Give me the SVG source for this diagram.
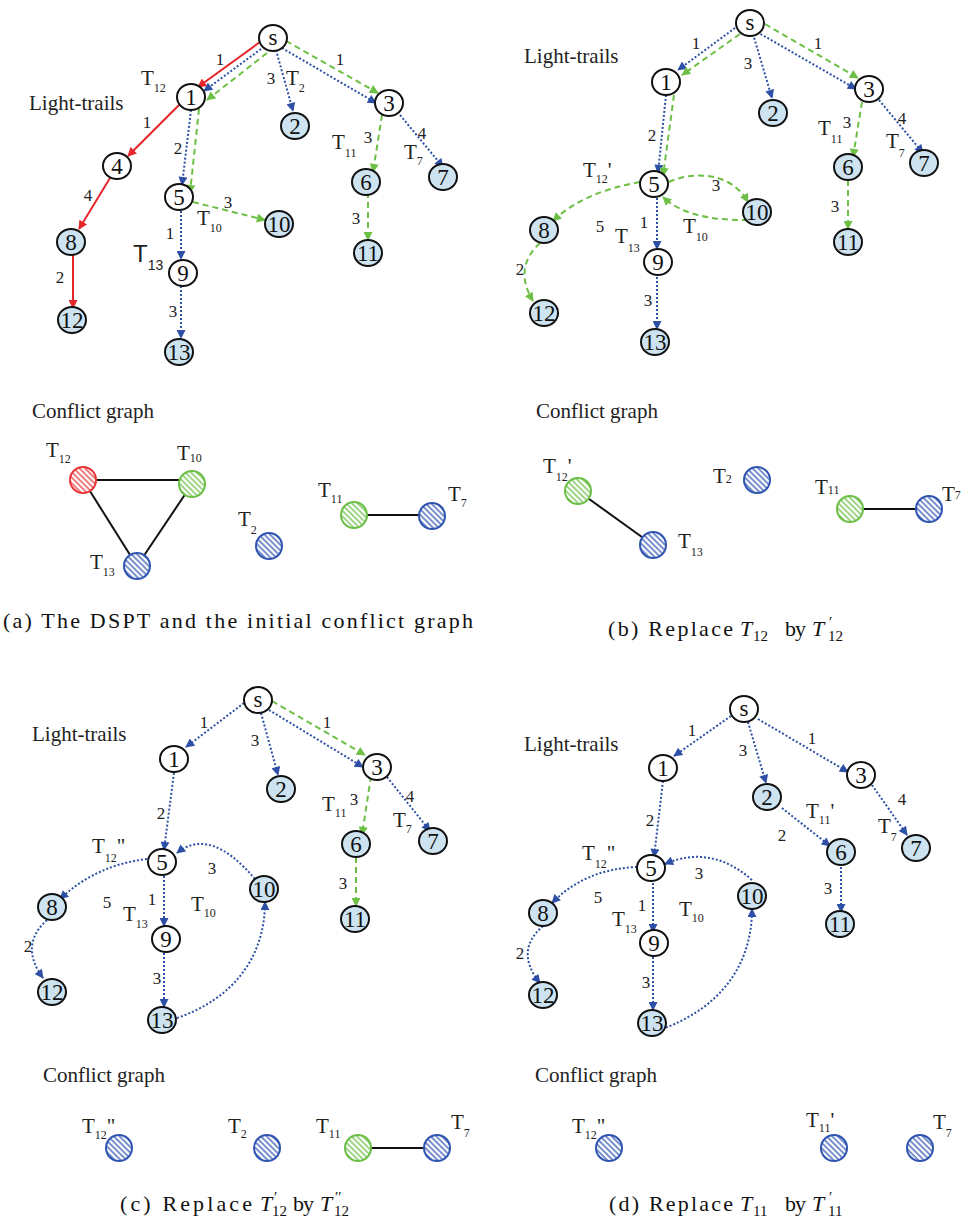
<svg xmlns="http://www.w3.org/2000/svg" width="961" height="1221" viewBox="0 0 961 1221" font-family="'Liberation Serif','Times New Roman',Times,'DejaVu Serif',serif">
<style>
.nd ellipse{stroke:#111;stroke-width:2}
.w ellipse{fill:#fff}
.b ellipse{fill:#cde3f0}
.nd text{font-family:'Liberation Serif','Times New Roman',Times,'DejaVu Serif',serif;font-size:23px;text-anchor:middle;fill:#111}
.el{font-family:'Liberation Serif','Times New Roman',Times,'DejaVu Serif',serif;font-size:17px;text-anchor:middle;fill:#222}
.tl{font-family:'Liberation Serif','Times New Roman',Times,'DejaVu Serif',serif;font-size:21px;fill:#222}
.sb{font-size:12px}
.ar{font-family:'Liberation Sans',Arial,sans-serif;font-size:24px;fill:#222}
.ars{font-size:14px}
.hd{font-family:'Liberation Serif','Times New Roman',Times,'DejaVu Serif',serif;font-size:21px;fill:#222}
.cap{font-family:'Liberation Serif','Times New Roman',Times,'DejaVu Serif',serif;font-size:22px;fill:#111}
.it{font-style:italic}
.cs{font-size:15px}
.r{stroke:#e5262b;stroke-width:2;fill:none;marker-end:url(#mr)}
.bl{stroke:#2d4fa6;stroke-width:2;stroke-dasharray:2 2;fill:none;marker-end:url(#mb)}
.g{stroke:#6dbf45;stroke-width:2;stroke-dasharray:6 4;fill:none;marker-end:url(#mg)}
.cl{stroke:#111;stroke-width:2}
.hb{fill:url(#hb);stroke:#2f55b0;stroke-width:2}
.hg{fill:url(#hg);stroke:#6bbf47;stroke-width:2}
.hr{fill:url(#hr);stroke:#e8363a;stroke-width:2}
</style>
<defs>
<marker id="mr" viewBox="0 0 10 10" refX="9" refY="5" markerWidth="10" markerHeight="9" markerUnits="userSpaceOnUse" orient="auto"><path d="M0,0 L10,5 L0,10 z" fill="#e5262b"/></marker>
<marker id="mb" viewBox="0 0 10 10" refX="9" refY="5" markerWidth="10" markerHeight="9" markerUnits="userSpaceOnUse" orient="auto"><path d="M0,0 L10,5 L0,10 z" fill="#2d4fa6"/></marker>
<marker id="mg" viewBox="0 0 10 10" refX="9" refY="5" markerWidth="10" markerHeight="9" markerUnits="userSpaceOnUse" orient="auto"><path d="M0,0 L10,5 L0,10 z" fill="#6dbf45"/></marker>
<pattern id="hb" patternUnits="userSpaceOnUse" width="4" height="4" patternTransform="rotate(-45)"><rect width="4" height="4" fill="#fff"/><line x1="1" y1="0" x2="1" y2="4" stroke="#2f55b0" stroke-width="1.3"/></pattern>
<pattern id="hg" patternUnits="userSpaceOnUse" width="4" height="4" patternTransform="rotate(-45)"><rect width="4" height="4" fill="#fff"/><line x1="1" y1="0" x2="1" y2="4" stroke="#6bbf47" stroke-width="1.3"/></pattern>
<pattern id="hr" patternUnits="userSpaceOnUse" width="4" height="4" patternTransform="rotate(-45)"><rect width="4" height="4" fill="#fff"/><line x1="1" y1="0" x2="1" y2="4" stroke="#e8363a" stroke-width="1.3"/></pattern>
</defs>
<rect width="961" height="1221" fill="#fff"/>

<g id="connectors">
<!-- (a) -->
<path class="r" d="M260,42 L198,87"/>
<path class="r" d="M180,104 L128,156"/>
<path class="r" d="M110,178 L79,229"/>
<path class="r" d="M73,255 L73,308"/>
<path class="bl" d="M261,49 L204,91"/>
<path class="g" d="M267,53 L207,100"/>
<path class="bl" d="M276,50 L293,111"/>
<path class="bl" d="M282,48 L376,103"/>
<path class="g" d="M286,41 L378,93"/>
<path class="bl" d="M191,110 L182,185"/>
<path class="g" d="M199,109 L190,193"/>
<path class="bl" d="M181,211 L181,259"/>
<path class="g" d="M193,202 L265,220"/>
<path class="bl" d="M181,286 L181,338"/>
<path class="g" d="M382,115 L373,172"/>
<path class="bl" d="M400,115 L443,167"/>
<path class="g" d="M368,192 L368,240"/>
<!-- (b) -->
<path class="bl" d="M735,28 L678,70"/>
<path class="g" d="M740,34 L682,75"/>
<path class="bl" d="M753,34 L772,98"/>
<path class="bl" d="M757,32 L856,89"/>
<path class="g" d="M765,24 L858,78"/>
<path class="bl" d="M666,95 L658,173"/>
<path class="g" d="M674,95 L663,176"/>
<path class="g" d="M640,182 Q583,192 553,221"/>
<path class="g" d="M540,243 Q513,268 533,301"/>
<path class="g" d="M669,182 C690,172 730,170 748,202"/>
<path class="g" d="M748,220 Q688,221 663,197"/>
<path class="bl" d="M657,198 L657,249"/>
<path class="bl" d="M657,277 L657,329"/>
<path class="g" d="M862,102 L853,157"/>
<path class="bl" d="M879,100 L923,153"/>
<path class="g" d="M848,180 L848,229"/>
<!-- (c) -->
<path class="bl" d="M244,703 L186,747"/>
<path class="bl" d="M261,713 L278,775"/>
<path class="bl" d="M269,710 L363,767"/>
<path class="g" d="M272,701 L365,755"/>
<path class="bl" d="M174,773 L164,850"/>
<path class="g" d="M371,776 L362,835"/>
<path class="bl" d="M387,777 L430,831"/>
<path class="g" d="M356,857 L356,906"/>
<path class="bl" d="M147,859 Q96,865 60,899"/>
<path class="bl" d="M47,920 Q19,945 43,978"/>
<path class="bl" d="M255,879 Q210,826 177,853"/>
<path class="bl" d="M164,876 L164,926"/>
<path class="bl" d="M164,953 L164,1007"/>
<path class="bl" d="M177,1018 C230,1000 265,960 265,902"/>
<!-- (d) -->
<path class="bl" d="M731,716 L674,756"/>
<path class="bl" d="M748,722 L766,783"/>
<path class="bl" d="M758,719 L848,772"/>
<path class="bl" d="M663,781 L654,857"/>
<path class="bl" d="M782,808 L830,846"/>
<path class="bl" d="M872,785 L907,835"/>
<path class="bl" d="M841,863 L841,912"/>
<path class="bl" d="M637,867 Q585,869 552,903"/>
<path class="bl" d="M543,926 Q514,951 540,983"/>
<path class="bl" d="M752,880 Q711,844 665,864"/>
<path class="bl" d="M653,883 L653,932"/>
<path class="bl" d="M653,957 L653,1010"/>
<path class="bl" d="M662,1029 C715,1010 752,970 752,909"/>
<!-- conflict edges -->
<line class="cl" x1="83" y1="480" x2="192" y2="480"/>
<line class="cl" x1="83" y1="480" x2="137" y2="566"/>
<line class="cl" x1="192" y1="484" x2="137" y2="566"/>
<line class="cl" x1="354" y1="515" x2="432" y2="515"/>
<line class="cl" x1="578" y1="491" x2="653" y2="545"/>
<line class="cl" x1="850" y1="509" x2="929" y2="509"/>
<line class="cl" x1="358" y1="1148" x2="437" y2="1148"/>
</g>

<!-- (a) tree nodes -->
<g id="a-s" class="nd w"><ellipse cx="273" cy="38" rx="14" ry="13"/><text x="273" y="45">s</text></g>
<g id="a-1" class="nd w"><ellipse cx="191" cy="97" rx="14" ry="13"/><text x="191" y="105">1</text></g>
<g id="a-2" class="nd b"><ellipse cx="295" cy="126" rx="14" ry="13"/><text x="295" y="134">2</text></g>
<g id="a-3" class="nd w"><ellipse cx="389" cy="103" rx="14" ry="13"/><text x="389" y="111">3</text></g>
<g id="a-4" class="nd w"><ellipse cx="117" cy="166" rx="14" ry="13"/><text x="117" y="174">4</text></g>
<g id="a-5" class="nd w"><ellipse cx="179" cy="197" rx="14" ry="13"/><text x="179" y="205">5</text></g>
<g id="a-6" class="nd b"><ellipse cx="366" cy="182" rx="14" ry="13"/><text x="366" y="190">6</text></g>
<g id="a-7" class="nd b"><ellipse cx="443" cy="177" rx="14" ry="13"/><text x="443" y="185">7</text></g>
<g id="a-8" class="nd b"><ellipse cx="71" cy="242" rx="14" ry="13"/><text x="71" y="250">8</text></g>
<g id="a-9" class="nd w"><ellipse cx="183" cy="273" rx="14" ry="13"/><text x="183" y="281">9</text></g>
<g id="a-10" class="nd b"><ellipse cx="279" cy="224" rx="14" ry="13"/><text x="279" y="232">10</text></g>
<g id="a-11" class="nd b"><ellipse cx="368" cy="253" rx="14" ry="13"/><text x="368" y="261">11</text></g>
<g id="a-12" class="nd b"><ellipse cx="72" cy="320" rx="14" ry="13"/><text x="72" y="328">12</text></g>
<g id="a-13" class="nd b"><ellipse cx="179" cy="352" rx="14" ry="13"/><text x="179" y="360">13</text></g>
<g id="a-labels">
<text class="hd" x="29" y="110">Light-trails</text>
<text class="el" x="220" y="65">1</text>
<text class="el" x="271" y="84">3</text>
<text class="el" x="340" y="65">1</text>
<text class="el" x="147" y="128">1</text>
<text class="el" x="178" y="154">2</text>
<text class="el" x="88" y="201">4</text>
<text class="el" x="228" y="208">3</text>
<text class="el" x="170" y="239">1</text>
<text class="el" x="60" y="283">2</text>
<text class="el" x="173" y="317">3</text>
<text class="el" x="368" y="143">3</text>
<text class="el" x="422" y="139">4</text>
<text class="el" x="356" y="224">3</text>
<text class="tl" x="141" y="85">T<tspan class="sb" dy="7">12</tspan></text>
<text class="tl" x="286" y="85">T<tspan class="sb" dy="7">2</tspan></text>
<text class="tl" x="332" y="149">T<tspan class="sb" dy="8">11</tspan></text>
<text class="tl" x="404" y="159">T<tspan class="sb" dy="6">7</tspan></text>
<text class="tl" x="197" y="225">T<tspan class="sb" dy="7">10</tspan></text>
<text class="ar" x="133" y="262">T<tspan class="ars" dy="8">13</tspan></text>
</g>

<!-- (b) tree nodes -->
<g id="b-s" class="nd w"><ellipse cx="750" cy="23" rx="14" ry="13"/><text x="750" y="30">s</text></g>
<g id="b-1" class="nd w"><ellipse cx="666" cy="82" rx="14" ry="13"/><text x="666" y="90">1</text></g>
<g id="b-2" class="nd b"><ellipse cx="773" cy="113" rx="14" ry="13"/><text x="773" y="121">2</text></g>
<g id="b-3" class="nd w"><ellipse cx="869" cy="89" rx="14" ry="13"/><text x="869" y="97">3</text></g>
<g id="b-5" class="nd w"><ellipse cx="654" cy="184" rx="14" ry="13"/><text x="654" y="192">5</text></g>
<g id="b-6" class="nd b"><ellipse cx="848" cy="167" rx="14" ry="13"/><text x="848" y="175">6</text></g>
<g id="b-7" class="nd b"><ellipse cx="924" cy="163" rx="14" ry="13"/><text x="924" y="171">7</text></g>
<g id="b-8" class="nd b"><ellipse cx="544" cy="230" rx="14" ry="13"/><text x="544" y="238">8</text></g>
<g id="b-9" class="nd w"><ellipse cx="658" cy="262" rx="14" ry="13"/><text x="658" y="270">9</text></g>
<g id="b-10" class="nd b"><ellipse cx="757" cy="212" rx="14" ry="13"/><text x="757" y="220">10</text></g>
<g id="b-11" class="nd b"><ellipse cx="848" cy="242" rx="14" ry="13"/><text x="848" y="250">11</text></g>
<g id="b-12" class="nd b"><ellipse cx="544" cy="313" rx="14" ry="13"/><text x="544" y="321">12</text></g>
<g id="b-13" class="nd b"><ellipse cx="655" cy="342" rx="14" ry="13"/><text x="655" y="350">13</text></g>
<g id="b-labels">
<text class="hd" x="524" y="63">Light-trails</text>
<text class="el" x="696" y="49">1</text>
<text class="el" x="748" y="69">3</text>
<text class="el" x="818" y="49">1</text>
<text class="el" x="652" y="141">2</text>
<text class="el" x="847" y="128">3</text>
<text class="el" x="902" y="124">4</text>
<text class="el" x="716" y="191">3</text>
<text class="el" x="600" y="232">5</text>
<text class="el" x="644" y="228">1</text>
<text class="el" x="520" y="275">2</text>
<text class="el" x="648" y="306">3</text>
<text class="el" x="835" y="212">3</text>
<text class="tl" x="818" y="135">T<tspan class="sb" dy="8">11</tspan></text>
<text class="tl" x="886" y="148">T<tspan class="sb" dy="9">7</tspan></text>
<text class="tl" x="583" y="177">T<tspan class="sb" dy="6">12</tspan><tspan dy="-6">'</tspan></text>
<text class="tl" x="615" y="243">T<tspan class="sb" dy="9">13</tspan></text>
<text class="tl" x="683" y="233">T<tspan class="sb" dy="8">10</tspan></text>
</g>

<!-- (c) tree nodes -->
<g id="c-s" class="nd w"><ellipse cx="258" cy="700" rx="14" ry="13"/><text x="258" y="707">s</text></g>
<g id="c-1" class="nd w"><ellipse cx="174" cy="759" rx="14" ry="13"/><text x="174" y="767">1</text></g>
<g id="c-2" class="nd b"><ellipse cx="281" cy="789" rx="14" ry="13"/><text x="281" y="797">2</text></g>
<g id="c-3" class="nd w"><ellipse cx="377" cy="767" rx="14" ry="13"/><text x="377" y="775">3</text></g>
<g id="c-5" class="nd w"><ellipse cx="162" cy="862" rx="14" ry="13"/><text x="162" y="870">5</text></g>
<g id="c-6" class="nd b"><ellipse cx="356" cy="844" rx="14" ry="13"/><text x="356" y="852">6</text></g>
<g id="c-7" class="nd b"><ellipse cx="433" cy="841" rx="14" ry="13"/><text x="433" y="849">7</text></g>
<g id="c-8" class="nd b"><ellipse cx="52" cy="907" rx="14" ry="13"/><text x="52" y="915">8</text></g>
<g id="c-9" class="nd w"><ellipse cx="166" cy="939" rx="14" ry="13"/><text x="166" y="947">9</text></g>
<g id="c-10" class="nd b"><ellipse cx="264" cy="889" rx="14" ry="13"/><text x="264" y="897">10</text></g>
<g id="c-11" class="nd b"><ellipse cx="355" cy="919" rx="14" ry="13"/><text x="355" y="927">11</text></g>
<g id="c-12" class="nd b"><ellipse cx="52" cy="992" rx="14" ry="13"/><text x="52" y="1000">12</text></g>
<g id="c-13" class="nd b"><ellipse cx="162" cy="1020" rx="14" ry="13"/><text x="162" y="1028">13</text></g>
<g id="c-labels">
<text class="hd" x="32" y="741">Light-trails</text>
<text class="el" x="204" y="728">1</text>
<text class="el" x="255" y="746">3</text>
<text class="el" x="327" y="728">1</text>
<text class="el" x="161" y="819">2</text>
<text class="el" x="354" y="805">3</text>
<text class="el" x="410" y="802">4</text>
<text class="el" x="212" y="874">3</text>
<text class="el" x="107" y="908">5</text>
<text class="el" x="152" y="905">1</text>
<text class="el" x="28" y="952">2</text>
<text class="el" x="157" y="984">3</text>
<text class="el" x="343" y="889">3</text>
<text class="tl" x="322" y="811">T<tspan class="sb" dy="6">11</tspan></text>
<text class="tl" x="393" y="827">T<tspan class="sb" dy="6">7</tspan></text>
<text class="tl" x="92" y="853">T<tspan class="sb" dy="9">12</tspan><tspan dy="-9">"</tspan></text>
<text class="tl" x="123" y="921">T<tspan class="sb" dy="7">13</tspan></text>
<text class="tl" x="191" y="911">T<tspan class="sb" dy="6">10</tspan></text>
</g>

<!-- (d) tree nodes -->
<g id="d-s" class="nd w"><ellipse cx="744" cy="709" rx="14" ry="13"/><text x="744" y="716">s</text></g>
<g id="d-1" class="nd w"><ellipse cx="663" cy="768" rx="14" ry="13"/><text x="663" y="776">1</text></g>
<g id="d-2" class="nd b"><ellipse cx="767" cy="797" rx="14" ry="13"/><text x="767" y="805">2</text></g>
<g id="d-3" class="nd w"><ellipse cx="861" cy="775" rx="14" ry="13"/><text x="861" y="783">3</text></g>
<g id="d-5" class="nd w"><ellipse cx="651" cy="868" rx="14" ry="13"/><text x="651" y="876">5</text></g>
<g id="d-6" class="nd b"><ellipse cx="841" cy="852" rx="14" ry="13"/><text x="841" y="860">6</text></g>
<g id="d-7" class="nd b"><ellipse cx="916" cy="848" rx="14" ry="13"/><text x="916" y="856">7</text></g>
<g id="d-8" class="nd b"><ellipse cx="543" cy="913" rx="14" ry="13"/><text x="543" y="921">8</text></g>
<g id="d-9" class="nd w"><ellipse cx="654" cy="943" rx="14" ry="13"/><text x="654" y="951">9</text></g>
<g id="d-10" class="nd b"><ellipse cx="752" cy="896" rx="14" ry="13"/><text x="752" y="904">10</text></g>
<g id="d-11" class="nd b"><ellipse cx="840" cy="924" rx="14" ry="13"/><text x="840" y="932">11</text></g>
<g id="d-12" class="nd b"><ellipse cx="543" cy="995" rx="14" ry="13"/><text x="543" y="1003">12</text></g>
<g id="d-13" class="nd b"><ellipse cx="652" cy="1023" rx="14" ry="13"/><text x="652" y="1031">13</text></g>
<g id="d-labels">
<text class="hd" x="524" y="751">Light-trails</text>
<text class="el" x="692" y="736">1</text>
<text class="el" x="743" y="756">3</text>
<text class="el" x="812" y="744">1</text>
<text class="el" x="650" y="826">2</text>
<text class="el" x="782" y="841">2</text>
<text class="el" x="902" y="805">4</text>
<text class="el" x="699" y="879">3</text>
<text class="el" x="598" y="903">5</text>
<text class="el" x="642" y="911">1</text>
<text class="el" x="520" y="959">2</text>
<text class="el" x="646" y="988">3</text>
<text class="el" x="828" y="894">3</text>
<text class="tl" x="806" y="818">T<tspan class="sb" dy="6">11</tspan><tspan dy="-6">'</tspan></text>
<text class="tl" x="878" y="833">T<tspan class="sb" dy="8">7</tspan></text>
<text class="tl" x="582" y="860">T<tspan class="sb" dy="8">12</tspan><tspan dy="-8">"</tspan></text>
<text class="tl" x="612" y="926">T<tspan class="sb" dy="7">13</tspan></text>
<text class="tl" x="679" y="916">T<tspan class="sb" dy="6">10</tspan></text>
</g>

<!-- conflict graph (a) -->
<text class="hd" x="32" y="418">Conflict graph</text>
<g id="ca-T12"><circle class="hr" cx="83" cy="480" r="13"/><text class="tl" x="46" y="457">T<tspan class="sb" dy="6">12</tspan></text></g>
<g id="ca-T10"><circle class="hg" cx="192" cy="484" r="13"/><text class="tl" x="177" y="460">T<tspan class="sb" dy="2">10</tspan></text></g>
<g id="ca-T13"><circle class="hb" cx="137" cy="566" r="13"/><text class="tl" x="90" y="569">T<tspan class="sb" dy="7">13</tspan></text></g>
<g id="ca-T2"><circle class="hb" cx="269" cy="546" r="13"/><text class="tl" x="238" y="526">T<tspan class="sb" dy="8">2</tspan></text></g>
<g id="ca-T11"><circle class="hg" cx="354" cy="515" r="13"/><text class="tl" x="318" y="497">T<tspan class="sb" dy="6">11</tspan></text></g>
<g id="ca-T7"><circle class="hb" cx="432" cy="516" r="13"/><text class="tl" x="448" y="501">T<tspan class="sb" dy="6">7</tspan></text></g>
<text class="cap" x="3" y="628" textLength="470" lengthAdjust="spacing">(a) The DSPT and the initial conflict graph</text>

<!-- conflict graph (b) -->
<text class="hd" x="536" y="418">Conflict graph</text>
<g id="cb-T12p"><circle class="hg" cx="578" cy="491" r="13"/><text class="tl" x="543" y="473">T<tspan class="sb" dy="8">12</tspan><tspan dy="-8">'</tspan></text></g>
<g id="cb-T13"><circle class="hb" cx="653" cy="545" r="13"/><text class="tl" x="678" y="548">T<tspan class="sb" dy="8">13</tspan></text></g>
<g id="cb-T2"><circle class="hb" cx="757" cy="480" r="13"/><text class="tl" x="713" y="483">T<tspan class="sb" dy="0">2</tspan></text></g>
<g id="cb-T11"><circle class="hg" cx="850" cy="509" r="13"/><text class="tl" x="815" y="494">T<tspan class="sb" dy="0">11</tspan></text></g>
<g id="cb-T7"><circle class="hb" cx="929" cy="509" r="13"/><text class="tl" x="942" y="501">T<tspan class="sb" dy="-2">7</tspan></text></g>
<g id="cap-b" class="cap">
<text x="608" y="636" textLength="125" lengthAdjust="spacing">(b) Replace</text>
<text class="it" x="740" y="636">T</text><text class="cs" x="753" y="641">12</text>
<text x="785" y="636" textLength="21" lengthAdjust="spacing">by</text>
<text class="it" x="812" y="636">T</text><text class="cs" x="829" y="627">′</text><text class="cs" x="828" y="641">12</text>
</g>

<!-- conflict graph (c) -->
<text class="hd" x="43" y="1082">Conflict graph</text>
<g id="cc-T12pp"><circle class="hb" cx="119" cy="1148" r="13"/><text class="tl" x="82" y="1133">T<tspan class="sb" dy="6">12</tspan><tspan dy="-6">"</tspan></text></g>
<g id="cc-T2"><circle class="hb" cx="267" cy="1148" r="13"/><text class="tl" x="228" y="1133">T<tspan class="sb" dy="5">2</tspan></text></g>
<g id="cc-T11"><circle class="hg" cx="358" cy="1148" r="13"/><text class="tl" x="316" y="1133">T<tspan class="sb" dy="5">11</tspan></text></g>
<g id="cc-T7"><circle class="hb" cx="437" cy="1148" r="13"/><text class="tl" x="451" y="1129">T<tspan class="sb" dy="8">7</tspan></text></g>
<g id="cap-c" class="cap">
<text x="120" y="1211" textLength="132" lengthAdjust="spacing">(c) Replace</text>
<text class="it" x="260" y="1211">T</text><text class="cs" x="274" y="1202">′</text><text class="cs" x="272" y="1216">12</text>
<text x="293" y="1211" textLength="21" lengthAdjust="spacing">by</text>
<text class="it" x="320" y="1211">T</text><text class="cs" x="335" y="1202">′′</text><text class="cs" x="334" y="1216">12</text>
</g>

<!-- conflict graph (d) -->
<text class="hd" x="535" y="1082">Conflict graph</text>
<g id="cd-T12pp"><circle class="hb" cx="609" cy="1148" r="13"/><text class="tl" x="572" y="1133">T<tspan class="sb" dy="6">12</tspan><tspan dy="-6">"</tspan></text></g>
<g id="cd-T11p"><circle class="hb" cx="834" cy="1148" r="13"/><text class="tl" x="806" y="1127">T<tspan class="sb" dy="5">11</tspan><tspan dy="-5">'</tspan></text></g>
<g id="cd-T7"><circle class="hb" cx="920" cy="1148" r="13"/><text class="tl" x="933" y="1129">T<tspan class="sb" dy="8">7</tspan></text></g>
<g id="cap-d" class="cap">
<text x="609" y="1211" textLength="124" lengthAdjust="spacing">(d) Replace</text>
<text class="it" x="740" y="1211">T</text><text class="cs" x="753" y="1216">11</text>
<text x="785" y="1211" textLength="21" lengthAdjust="spacing">by</text>
<text class="it" x="812" y="1211">T</text><text class="cs" x="829" y="1202">′</text><text class="cs" x="828" y="1216">11</text>
</g>
</svg>
